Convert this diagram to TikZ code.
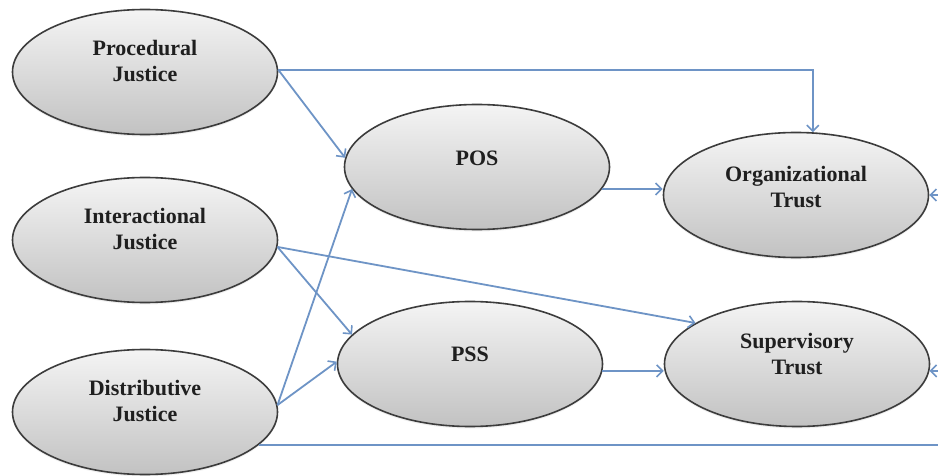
\documentclass[tikz,border=0pt]{standalone}
\usepackage{fontspec}
\setmainfont{Liberation Serif}
\usetikzlibrary{shapes.geometric,arrows.meta,shadows}

\definecolor{linkblue}{RGB}{110,148,198}
\definecolor{ringgray}{RGB}{60,60,60}
\definecolor{filltop}{RGB}{244,244,244}
\definecolor{fillbot}{RGB}{194,194,194}

\begin{document}
\begin{tikzpicture}[x=1pt,y=-1pt,
  construct/.style={ellipse, draw=ringgray, line width=1.6pt,
    top color=filltop, bottom color=fillbot,
    drop shadow={opacity=0.12, shadow xshift=0pt, shadow yshift=-2pt},
    minimum width=265pt, minimum height=125pt, inner sep=0pt},
  caption/.style={font=\fontsize{22}{26}\selectfont\bfseries,
    align=center, text=black!88, inner sep=0pt},
  link/.style={draw=linkblue, line width=1.8pt,
    -{Straight Barb[length=6pt,width=12pt,line width=1.6pt]}},
  rail/.style={draw=linkblue, line width=1.8pt}]

\clip (0,0) rectangle (938,476);
\fill[white] (0,0) rectangle (938,476);

% constructs
\node[construct] (pj) at (145,72)  {};
\node[construct] (ij) at (145,240) {};
\node[construct] (dj) at (145,412) {};
\node[construct] (pos) at (477,167) {};
\node[construct] (pss) at (470,364) {};
\node[construct] (ot) at (796,195) {};
\node[construct] (st) at (797,364) {};

% captions
\node[caption] (pj-t)  at (145,61)  {Procedural\\Justice};
\node[caption] (ij-t)  at (145,229) {Interactional\\Justice};
\node[caption] (dj-t)  at (145,401) {Distributive\\Justice};
\node[caption] (pos-t) at (477,158) {POS};
\node[caption] (pss-t) at (470,354) {PSS};
\node[caption] (ot-t)  at (796,187) {Organizational\\Trust};
\node[caption] (st-t)  at (797,354) {Supervisory\\Trust};

% feedback rail running past the right edge
\coordinate (railtop) at (948,195);
\coordinate (railbot) at (948,444);

% paths
\draw[link] (pj.1) -| (ot.75);
\draw[link] (pj.1) -- (pos.176);
\draw[link] (ij.357) -- (pss.166);
\draw[link] (ij.357) -- (st.158);
\draw[link] (dj.3) -- (pos.190);
\draw[link] (dj.3) -- (pss.179);
\draw[link] (pos.350) -- (pos.350 -| ot.west);
\draw[link] (pss.357) -- (pss.357 -| st.west);

\draw[rail] (dj.344) -- (dj.344 -| railbot) -- (railtop);
\draw[link] (railtop) -- (ot.east);
\draw[link] (st.357 -| railtop) -- (st.357);
\end{tikzpicture}
\end{document}
